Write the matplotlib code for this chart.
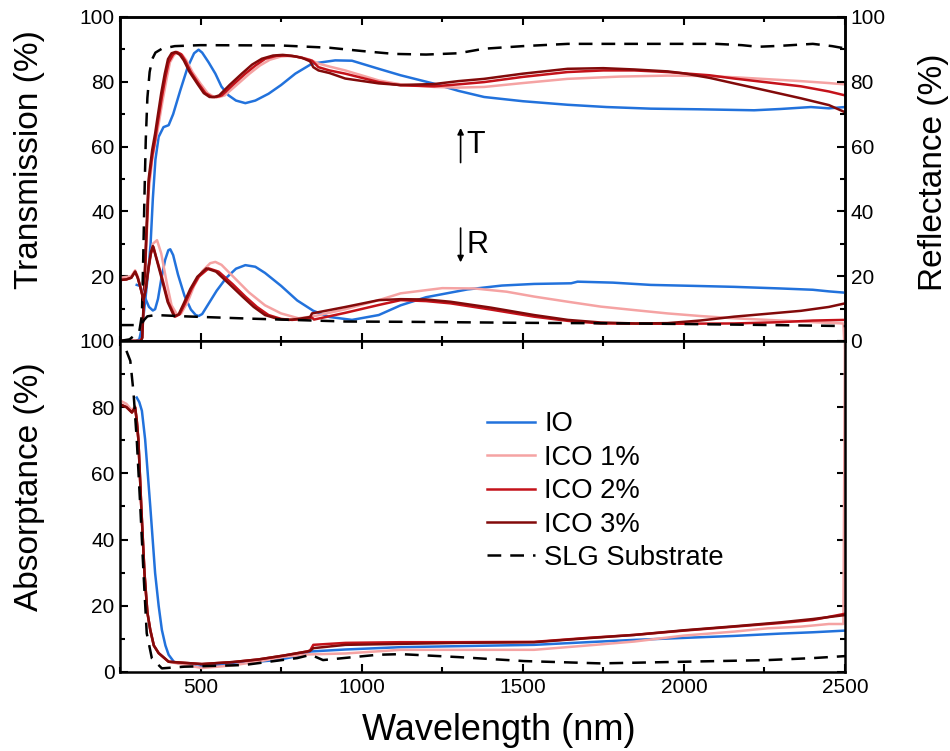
import matplotlib
matplotlib.use("Agg")
import matplotlib.pyplot as plt
from matplotlib.ticker import MultipleLocator

plt.rcParams['font.family'] = ['Liberation Sans', 'DejaVu Sans']

# ---- transmission (%) ----
slg_t_wl = [250, 280, 310, 318, 322, 326, 330, 335, 342, 350, 360, 380, 420, 500, 750, 900, 1000,
            1100, 1200, 1300, 1380, 1500, 1640, 1800, 2100, 2180, 2230, 2300, 2400, 2460, 2500]
slg_t = [0, 0.5, 3, 8, 25, 45, 62, 75, 83, 87, 89, 90.2, 91, 91.3, 91.2, 90.5, 89.5,
         88.6, 88.4, 88.8, 90.2, 91, 91.7, 91.7, 91.7, 91.3, 90.8, 91.1, 91.7, 91, 90.3]

io_t_wl = [300, 310, 320, 330, 340, 345, 352, 360, 370, 385, 401, 415, 437, 460, 480, 494, 505, 525,
           546, 565, 587, 610, 639, 670, 711, 750, 794, 846, 918, 970, 1053, 1121, 1225, 1300, 1380,
           1500, 1639, 1760, 1897, 2050, 2218, 2300, 2394, 2450, 2500]
io_t = [0, 0.5, 5, 14, 24, 30, 44, 56, 63, 66, 66.6, 70, 77.3, 84.5, 88.8, 89.9, 89, 86,
        82.5, 78.5, 75.8, 74.2, 73.4, 74.2, 76.3, 79, 82.5, 85.6, 86.6, 86.5, 84, 82, 79.4, 77.2, 75.3,
        74, 72.9, 72.2, 71.7, 71.5, 71.2, 71.6, 72.2, 71.8, 72.2]

ico1_t_wl = [250, 315, 319, 325, 332, 339, 350, 359, 365, 382, 395, 405, 418, 430, 444, 456, 475, 500,
             522, 542, 558, 575, 612, 652, 684, 715, 750, 780, 810, 840, 866, 900, 949, 1053, 1121,
             1225, 1300, 1380, 1500, 1639, 1800, 1949, 2050, 2156, 2260, 2363, 2450, 2500]
ico1_t = [0, 0, 1, 14, 30, 46, 56, 61, 64, 74, 81, 86, 88.3, 89, 88.2, 86.6, 83, 79.4,
          76.5, 75.3, 75.3, 75.8, 79, 82.5, 85, 86.8, 87.8, 88, 87.6, 86.8, 85.6, 84.7, 83.5, 80.4, 79.2,
          78.4, 78.2, 78.4, 79.6, 80.9, 81.6, 81.9, 81.8, 81.4, 80.8, 80.2, 79.6, 79.2]

ico2_t_wl = [250, 315, 319, 325, 332, 339, 350, 359, 365, 380, 391, 401, 415, 426, 440, 452, 470, 494,
             515, 535, 550, 566, 600, 639, 670, 701, 735, 763, 795, 825, 846, 866, 900, 949, 1053,
             1121, 1225, 1300, 1380, 1500, 1639, 1750, 1846, 1950, 2000, 2080, 2156, 2260, 2363,
             2450, 2500]
ico2_t = [0, 0, 1, 15, 32, 48.6, 57, 62, 66, 75.3, 81.4, 86, 88.5, 89.2, 88.5, 86.6, 83, 79.4,
          76.5, 75.3, 75.3, 75.8, 79, 82.5, 85, 87.1, 88, 88.1, 87.8, 87.1, 86.5, 84.5, 83.5, 82.5, 79.9,
          78.9, 78.6, 79.2, 79.9, 81.5, 83, 83.5, 83.5, 83, 82.6, 82, 81, 79.8, 78.6,
          77, 75.8]

ico3_t_wl = [250, 315, 319, 325, 332, 339, 350, 359, 365, 378, 389, 399, 410, 422, 436, 448, 466, 490,
             510, 528, 543, 558, 590, 628, 660, 690, 725, 755, 785, 815, 840, 850, 866, 900, 949,
             1053, 1121, 1225, 1300, 1380, 1500, 1639, 1750, 1846, 1950, 2000, 2080, 2156, 2260,
             2363, 2450, 2500]
ico3_t = [0, 0, 1, 16, 34, 50, 59, 64, 68, 76.5, 82.5, 87, 88.8, 89.2, 88.3, 86.6, 83, 79.4,
          76.5, 75.3, 75.3, 75.8, 79, 82.5, 85.3, 87.1, 88.1, 88.3, 88, 87.4, 86.3, 84.5, 83.5, 82.7, 81,
          79.5, 79, 79.3, 80.2, 80.9, 82.5, 84, 84.2, 83.8, 83.2, 82.6, 81.2, 79.5, 77.2,
          74.9, 72.8, 70.6]

# ---- reflectance (%) ----
slg_r_wl = [250, 300, 315, 325, 335, 360, 450, 650, 950, 1150, 1500, 1850, 2200, 2500]
slg_r = [4.9, 4.9, 5.1, 6.5, 7.6, 8.0, 7.6, 6.9, 6.0, 5.9, 5.6, 5.4, 5.0, 4.6]

io_r_wl = [302, 312, 325, 340, 352, 359, 368, 378, 390, 400, 406, 415, 430, 450, 470, 485, 494, 505,
           525, 550, 580, 610, 639, 670, 700, 750, 800, 850, 900, 970, 1053, 1121, 1200, 1328, 1435,
           1535, 1650, 1670, 1780, 1897, 2030, 2156, 2300, 2400, 2450, 2500]
io_r = [17.3, 17, 14, 10.5, 9.4, 9.8, 13, 19, 25, 28, 28.3, 26.5, 20.5, 14, 9.7, 8, 7.7, 8.3,
        11.5, 15.5, 19.5, 22.3, 23.4, 22.9, 21, 17, 12.5, 9.3, 7.4, 6.5, 8, 11, 13.5, 15.9, 17.1,
        17.6, 17.8, 18.3, 18, 17.3, 17, 16.7, 16.2, 15.8, 15.3, 14.9]

ico1_r_wl = [250, 285, 297, 305, 313, 323, 332, 342, 352, 365, 378, 395, 410, 428, 440, 460, 480, 505,
             530, 546, 565, 600, 650, 700, 750, 804, 850, 950, 1053, 1121, 1250, 1350, 1450, 1535,
             1640, 1742, 1849, 1949, 2050, 2156, 2260, 2363, 2450, 2495, 2500]
ico1_r = [19.5, 20, 21.8, 20, 17, 13, 18, 25, 30, 31.1, 27, 18, 11, 8, 8.5, 12, 17, 21.5,
          24, 24.4, 23.5, 20, 15, 11, 8.5, 7, 7.6, 9.8, 12.6, 14.7, 16.3, 16.2, 15.2, 13.7,
          12.1, 10.6, 9.5, 8.5, 7.7, 7, 6.5, 6, 5.6, 5.4, -5]

ico2_r_wl = [250, 270, 285, 297, 305, 313, 323, 330, 338, 346, 354, 362, 380, 400, 421, 435, 452, 472,
             494, 525, 556, 600, 639, 675, 711, 750, 784, 820, 846, 852, 950, 1053, 1121, 1200, 1276,
             1400, 1535, 1640, 1742, 1949, 2156, 2300, 2400, 2500]
ico2_r = [18.8, 19, 19.5, 21.4, 19.5, 16.7, 12.6, 16, 21.9, 27, 29, 26, 19.8, 12, 7.5, 8.2, 11.6, 16,
          19.8, 22.4, 21.4, 17.5, 13.7, 10.5, 8, 6.8, 6.5, 6.8, 7.2, 6.6, 8.7, 11.1, 12.6, 12.3, 11.6,
          9.7, 7.5, 6.2, 5.4, 5.3, 5.4, 5.8, 6.3, 6.5]

ico3_r_wl = [250, 270, 285, 297, 305, 313, 323, 330, 338, 346, 352, 360, 378, 398, 418, 432, 448, 468,
             490, 518, 548, 590, 630, 665, 700, 740, 775, 810, 840, 846, 950, 1053, 1121, 1200, 1276,
             1400, 1535, 1640, 1742, 1850, 1949, 2050, 2156, 2260, 2363, 2450, 2500]
ico3_r = [18.8, 19, 19.5, 21.4, 19.5, 16.7, 12.6, 16, 22.5, 27.5, 29.3, 26.5, 19.8, 12, 7.6, 8.2, 11.6, 16,
          19.8, 22.4, 21.4, 17.5, 13.7, 10.5, 8, 6.8, 6.5, 6.9, 7.4, 8.5, 10.5, 12.6, 12.9, 12.8, 12.1,
          10.3, 8, 6.5, 5.7, 5.4, 5.5, 6.3, 7.5, 8.4, 9.3, 10.5, 11.6]

# ---- absorptance (%) ----
slg_a_wl = [270, 282, 292, 302, 313, 323, 333, 349, 380, 450, 634, 800, 842, 880, 1049, 1121, 1300,
            1504, 1742, 2001, 2260, 2400, 2500]
slg_a = [97, 94, 84.4, 70.3, 50, 29.9, 11.7, 4.1, 1.1, 1.6, 2.1, 4.2, 5.2, 3.6, 5.2, 5.4, 4.5,
         3.3, 2.6, 3.1, 3.6, 4.2, 4.8]

io_a_wl = [302, 310, 318, 328, 344, 359, 370, 380, 391, 401, 417, 432, 490, 600, 738, 800, 842, 950,
           1121, 1300, 1535, 1700, 1846, 2000, 2156, 2300, 2400, 2500]
io_a = [82.9, 81.5, 78.9, 70.3, 50, 29.9, 20, 12.7, 8, 5.2, 3.1, 2.6, 1.6, 2.5, 3.6, 4.8, 6.2, 6.8,
        7.5, 7.8, 8.2, 9, 9.7, 10.3, 10.9, 11.6, 12, 12.5]

ico1_a_wl = [250, 270, 287, 297, 302, 307, 316, 326, 335, 344, 355, 370, 401, 504, 600, 680, 760, 831,
             950, 1121, 1300, 1535, 1700, 1846, 2000, 2156, 2260, 2363, 2450, 2495, 2500]
ico1_a = [82, 81, 79, 80.3, 76, 70.3, 50, 29.9, 18, 12.7, 8, 5.7, 3.1, 1.2, 2, 3.2, 4.6, 5.3,
          5.6, 6.7, 6.7, 6.7, 8, 9.2, 11, 12.2, 13.2, 13.7, 14.5, 14.5, 105]

ico2_a_wl = [250, 270, 287, 297, 302, 307, 316, 326, 335, 344, 355, 370, 401, 504, 600, 680, 760, 831,
             840, 850, 950, 1121, 1300, 1535, 1700, 1846, 2000, 2156, 2300, 2400, 2500]
ico2_a = [80.9, 80, 78.4, 79.9, 76, 70.3, 50, 29.9, 18, 12.7, 8, 5.7, 3.1, 2.4, 3, 3.8, 5, 6.2,
          6.5, 8.2, 8.8, 9, 9, 9.1, 10.3, 11.2, 12.5, 13.7, 14.8, 15.7, 17.6]

ico3_a_wl = [250, 270, 287, 297, 302, 307, 316, 326, 335, 344, 355, 370, 401, 504, 600, 680, 760, 831,
             840, 850, 950, 1121, 1300, 1535, 1700, 1846, 2000, 2156, 2300, 2400, 2500]
ico3_a = [80.9, 80, 78.4, 79.9, 76, 70.3, 50, 29.9, 18, 12.7, 8, 5.7, 3.1, 2.4, 3, 3.8, 5, 6.2,
          6.4, 7.2, 8.2, 8.5, 8.8, 9, 10.2, 11.2, 12.6, 13.8, 15, 16, 17.2]

labels = ['IO', 'ICO 1%', 'ICO 2%', 'ICO 3%', 'SLG Substrate']
colors = ['#2272DC', '#F5A3A3', '#C4121A', '#820A0A']

lw = 1.8
dash = (0, (5.5, 3.6))

fig = plt.figure(figsize=(9.5, 7.51), dpi=100)
ax_t = fig.add_axes([0.1263, 0.546, 0.7632, 0.4314])
ax_r = ax_t.twinx()
ax_a = fig.add_axes([0.1263, 0.1052, 0.7632, 0.4408])

t_sets = [(io_t_wl, io_t), (ico1_t_wl, ico1_t), (ico2_t_wl, ico2_t), (ico3_t_wl, ico3_t)]
r_sets = [(io_r_wl, io_r), (ico1_r_wl, ico1_r), (ico2_r_wl, ico2_r), (ico3_r_wl, ico3_r)]
a_sets = [(io_a_wl, io_a), (ico1_a_wl, ico1_a), (ico2_a_wl, ico2_a), (ico3_a_wl, ico3_a)]

for (x, y), c in zip(t_sets, colors):
    ax_t.plot(x, y, color=c, lw=lw)
ax_t.plot(slg_t_wl, slg_t, color='black', lw=lw, linestyle=dash)

for (x, y), c in zip(r_sets, colors):
    ax_r.plot(x, y, color=c, lw=lw)
ax_r.plot(slg_r_wl, slg_r, color='black', lw=lw, linestyle=dash)

for (x, y), c, lab in zip(a_sets, colors, labels):
    ax_a.plot(x, y, color=c, lw=lw, label=lab)
ax_a.plot(slg_a_wl, slg_a, color='black', lw=lw, linestyle=dash, label=labels[4])

# axes styling
for ax in (ax_t, ax_r, ax_a):
    ax.set_xlim(250, 2500)
    ax.set_ylim(0, 100)
    ax.xaxis.set_major_locator(MultipleLocator(500))
    ax.xaxis.set_minor_locator(MultipleLocator(250))
    ax.yaxis.set_major_locator(MultipleLocator(20))
    ax.yaxis.set_minor_locator(MultipleLocator(10))
    ax.tick_params(which='both', direction='in', width=1.5, labelsize=15, pad=4)
    ax.tick_params(which='major', length=6)
    ax.tick_params(which='minor', length=3.5)
    for s in ax.spines.values():
        s.set_linewidth(1.8)

ax_t.tick_params(which='both', top=True, labelbottom=False)
ax_t.set_yticks([0, 20, 40, 60, 80, 100], ['', '20', '40', '60', '80', '100'])
ax_r.tick_params(which='both', top=True, labelbottom=False)
ax_a.tick_params(which='both', top=True, right=True)

ax_t.set_ylabel('Transmission (%)', fontsize=24)
ax_r.set_ylabel('Reflectance (%)', fontsize=24)
ax_a.set_ylabel('Absorptance (%)', fontsize=24)
ax_a.set_xlabel('Wavelength (nm)', fontsize=26)
ax_t.yaxis.set_label_coords(-0.103, 0.56)
ax_r.yaxis.set_label_coords(1.101, 0.52)
ax_a.yaxis.set_label_coords(-0.103, 0.56)
ax_a.xaxis.set_label_coords(0.523, -0.124)

# T / R arrows
ax_t.annotate('', xy=(1307, 66.6), xytext=(1307, 54.2),
              arrowprops=dict(arrowstyle='-|>', color='black', lw=1.2, mutation_scale=9))
ax_t.text(1325, 60.4, 'T', fontsize=22, va='center', ha='left')
ax_t.annotate('', xy=(1307, 23.4), xytext=(1307, 35.7),
              arrowprops=dict(arrowstyle='-|>', color='black', lw=1.2, mutation_scale=9))
ax_t.text(1325, 29.6, 'R', fontsize=22, va='center', ha='left')

ax_a.legend(loc='upper left', bbox_to_anchor=(0.506, 0.787), frameon=False, fontsize=19.7,
            handlelength=1.75, handletextpad=0.35, labelspacing=0.27, borderpad=0, borderaxespad=0)

fig.savefig('out.png', dpi=100)
